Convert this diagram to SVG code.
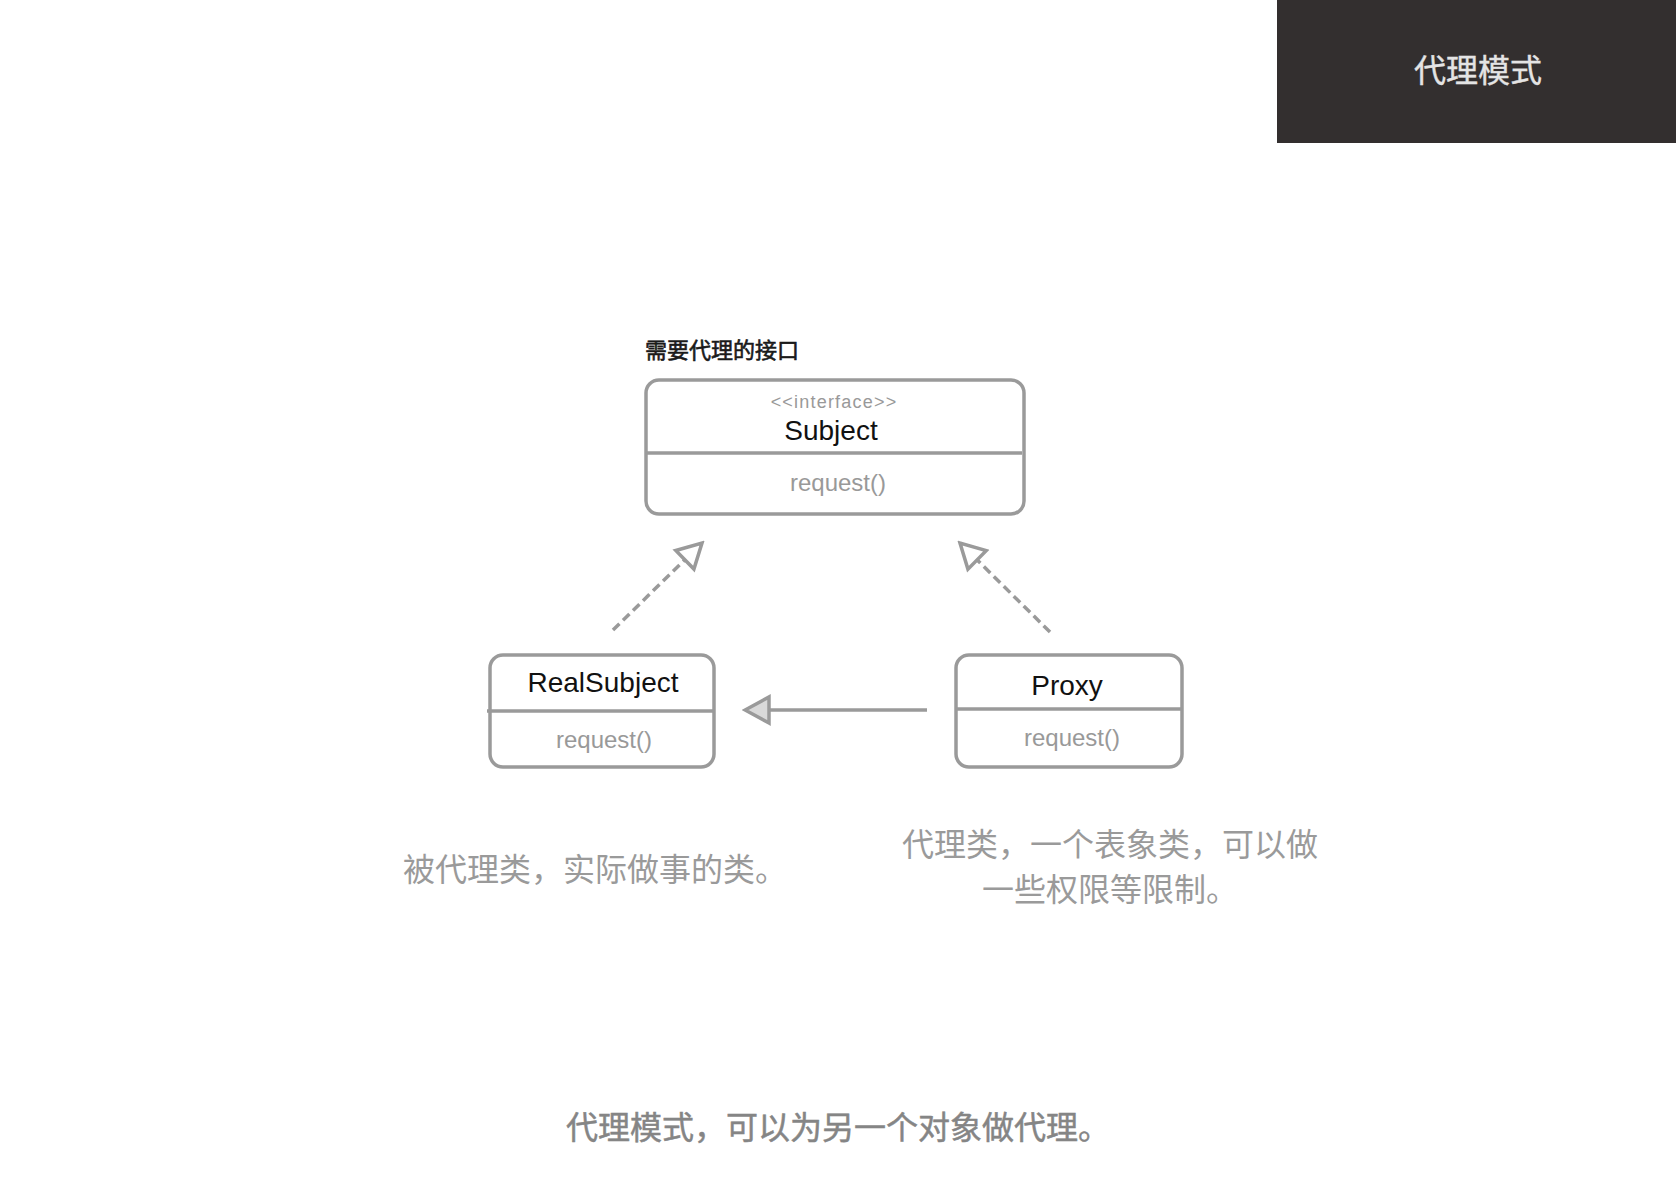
<svg xmlns="http://www.w3.org/2000/svg" width="1676" height="1182" viewBox="0 0 1676 1182">
  <style>
    .box { fill: #ffffff; stroke: #9a9a9a; stroke-width: 3.5; }
    .div { stroke: #9a9a9a; stroke-width: 3.5; fill: none; }
    .lat { font-family: "Liberation Sans", Arial, "Noto Sans CJK SC", sans-serif; }
    .cjk { font-family: "Noto Sans CJK SC", "Noto Sans", sans-serif; }
    .name { font-size: 28px; fill: #111111; text-anchor: middle; }
    .op { font-size: 24px; fill: #999999; text-anchor: middle; }
    .stereo { font-size: 18px; fill: #999999; text-anchor: middle; letter-spacing: 1.2px; }
    .note { font-size: 32px; fill: #9a9a9a; }
    .dash { stroke: #9a9a9a; stroke-width: 3.5; fill: none; stroke-dasharray: 9 5; }
    .solid { stroke: #9a9a9a; stroke-width: 3.5; fill: none; }
  </style>
  <defs>
    <marker id="openTri" markerUnits="userSpaceOnUse" viewBox="-3 -16 30 32" refX="24" refY="0" markerWidth="30" markerHeight="32" orient="auto">
      <path d="M0,-13 L24,0 L0,13 Z" fill="#ffffff" stroke="#9a9a9a" stroke-width="3.5" stroke-linejoin="miter"/>
    </marker>
    <marker id="fillTri" markerUnits="userSpaceOnUse" viewBox="-3 -16 30 32" refX="24" refY="0" markerWidth="30" markerHeight="32" orient="auto">
      <path d="M0,-13 L24,0 L0,13 Z" fill="#d9d9d9" stroke="#9a9a9a" stroke-width="3.5" stroke-linejoin="miter"/>
    </marker>
  </defs>
  <rect x="0" y="0" width="1676" height="1182" fill="#ffffff"/>

  <g id="header">
    <rect x="1277" y="0" width="399" height="143" fill="#332f2f"/>
    <text class="cjk" x="1478" y="82" font-size="32" fill="#e4e4e4" text-anchor="middle" stroke="#e4e4e4" stroke-width="0.4">代理模式</text>
  </g>

  <g id="subject-label">
    <text class="cjk" x="645" y="358" font-size="22" fill="#1a1a1a" stroke="#1a1a1a" stroke-width="0.6">需要代理的接口</text>
  </g>

  <g id="subject">
    <rect class="box" x="646" y="380" width="378" height="134" rx="13" ry="13"/>
    <line class="div" x1="646" y1="453" x2="1022" y2="453"/>
    <text class="lat stereo" x="834" y="408">&lt;&lt;interface&gt;&gt;</text>
    <text class="lat name" x="831" y="440">Subject</text>
    <text class="lat op" x="838" y="491">request()</text>
  </g>

  <g id="realsubject">
    <rect class="box" x="490" y="655" width="224" height="112" rx="13" ry="13"/>
    <line class="div" x1="487" y1="711" x2="714" y2="711"/>
    <text class="lat name" x="603" y="692">RealSubject</text>
    <text class="lat op" x="604" y="748">request()</text>
  </g>

  <g id="proxy">
    <rect class="box" x="956" y="655" width="226" height="112" rx="13" ry="13"/>
    <line class="div" x1="956" y1="709" x2="1182" y2="709"/>
    <text class="lat name" x="1067" y="695">Proxy</text>
    <text class="lat op" x="1072" y="746">request()</text>
  </g>

  <g id="connectors">
    <line class="dash" x1="613" y1="630" x2="702" y2="543" marker-end="url(#openTri)"/>
    <line class="dash" x1="1050" y1="632" x2="960" y2="543" marker-end="url(#openTri)"/>
    <line class="solid" x1="927" y1="710" x2="745" y2="710" marker-end="url(#fillTri)"/>
  </g>

  <g id="notes">
    <text class="cjk note" x="403" y="881">被代理类，实际做事的类。</text>
    <text class="cjk note" x="1110" y="856" text-anchor="middle">代理类，一个表象类，可以做</text>
    <text class="cjk note" x="1110" y="901" text-anchor="middle">一些权限等限制。</text>
  </g>

  <g id="footer">
    <text class="cjk" x="566" y="1139" font-size="32" fill="#858585" stroke="#858585" stroke-width="0.5">代理模式，可以为另一个对象做代理。</text>
  </g>
</svg>
